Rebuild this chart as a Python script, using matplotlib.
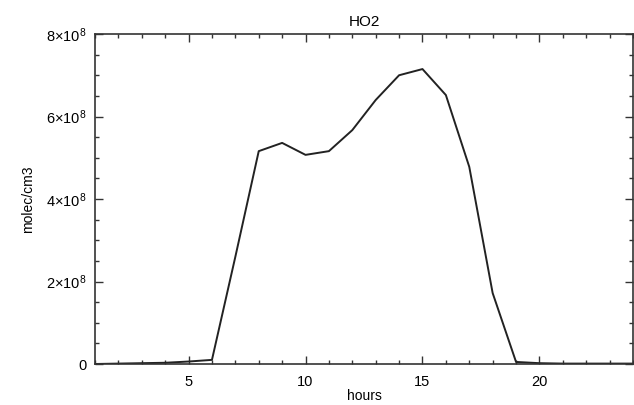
import matplotlib
matplotlib.use("Agg")
import matplotlib.pyplot as plt
from matplotlib.ticker import MultipleLocator

hours = [1, 2, 3, 4, 5, 6, 7, 8, 9, 10, 11, 12, 13, 14, 15, 16, 17, 18, 19, 20, 21, 22, 23, 24]
ho2 = [0.0, 1e6, 2e6, 3e6, 6e6, 1e7, 2.6e8, 5.16e8, 5.36e8, 5.07e8, 5.16e8, 5.67e8,
       6.4e8, 7.0e8, 7.15e8, 6.52e8, 4.78e8, 1.72e8, 5e6, 2e6, 1e6, 1e6, 1e6, 1e6]
yticks = [0, 2e8, 4e8, 6e8, 8e8]
ylabels = ["0", r"$2{\times}10^8$", r"$4{\times}10^8$", r"$6{\times}10^8$", r"$8{\times}10^8$"]
xticks = [5, 10, 15, 20]

plt.rcParams['font.family'] = ['Liberation Sans', 'DejaVu Sans']
plt.rcParams['mathtext.fontset'] = 'custom'
plt.rcParams['mathtext.rm'] = 'Liberation Sans'
plt.rcParams['mathtext.it'] = 'Liberation Sans'

fig = plt.figure(figsize=(6.34, 4.05), dpi=100)
ax = fig.add_axes([95/634, 41/405, 538/634, 330/405])
ax.plot(hours, ho2, color='#222222', lw=1.4)
ax.set_xlim(1, 24)
ax.set_ylim(0, 8e8)
ax.set_xticks(xticks)
ax.set_xticklabels([str(t) for t in xticks])
ax.set_yticks(yticks)
ax.set_yticklabels(ylabels)
ax.xaxis.set_minor_locator(MultipleLocator(1))
ax.yaxis.set_minor_locator(MultipleLocator(5e7))
ax.tick_params(which='both', direction='in', top=True, right=True, labelsize=10.5, color='#333333')
ax.tick_params(which='major', length=6, width=1)
ax.tick_params(which='minor', length=3, width=1)
ax.tick_params(axis='x', which='major', pad=8)
ax.tick_params(axis='y', which='major', pad=6)
for s in ax.spines.values():
    s.set_linewidth(1.2)
    s.set_color('#333333')
ax.set_title("HO2", fontsize=11, pad=6)
ax.set_xlabel("hours", fontsize=10, labelpad=0)
ax.set_ylabel("molec/cm3", fontsize=10, labelpad=8)
fig.savefig("out.png", dpi=100)
